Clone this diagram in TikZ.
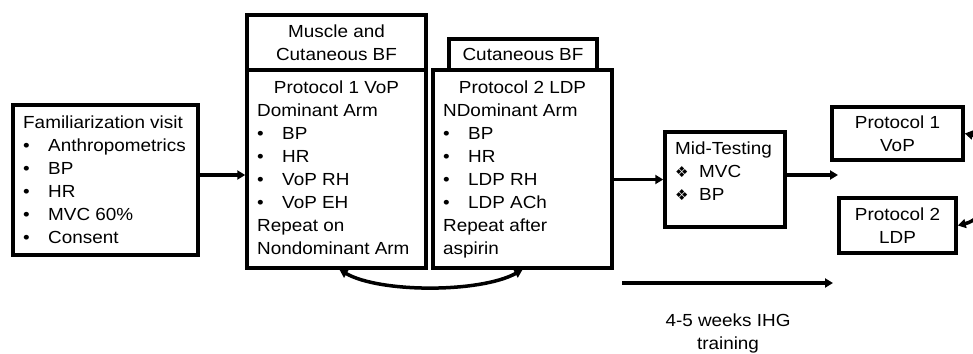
\documentclass[tikz,border=0pt]{standalone}
\usepackage{fontspec}
\setmainfont{Liberation Sans}[FakeStretch=1.08]
\newfontfamily\dejavu{DejaVu Sans}
\usetikzlibrary{arrows.meta}
\newcommand{\bul}{\makebox[25pt][l]{\textbullet}}
\newcommand{\dia}{\makebox[24pt][l]{{\dejavu\fontsize{15}{23}\selectfont ❖}}}
\begin{document}
\begin{tikzpicture}[x=1pt,y=-1pt,
  every node/.style={font=\fontsize{17.5}{23}\selectfont},
  boxnode/.style={draw,line width=3.5pt,rectangle,inner sep=0pt,align=center},
  txt/.style={inner sep=0pt,align=left,anchor=north west},
  ttl/.style={inner sep=0pt,anchor=base},
  conn/.style={line width=3.5pt,-{Triangle[length=8pt,width=9pt]}},
  dconn/.style={line width=3.5pt,{Triangle[length=8pt,width=9pt]}-{Triangle[length=8pt,width=9pt]}}]
\useasboundingbox (0,0) rectangle (973,353);
% boxes
\node[boxnode,minimum width=185pt,minimum height=150pt] (fam) at (105.5,180) {};
\node[boxnode,minimum width=179pt,minimum height=55pt] (mbf) at (336.5,42.5) {Muscle and\\Cutaneous BF};
\node[boxnode,minimum width=179pt,minimum height=198pt] (p1) at (336.5,169) {};
\node[boxnode,minimum width=148pt,minimum height=31pt] (cbf) at (523,54.5) {Cutaneous BF};
\node[boxnode,minimum width=179pt,minimum height=198pt] (p2) at (522.5,169) {};
\node[boxnode,minimum width=120pt,minimum height=95pt] (mid) at (725,179.5) {};
\node[boxnode,minimum width=131pt,minimum height=53pt] (r1) at (897.5,133.5) {Protocol 1\\VoP};
\node[boxnode,minimum width=117pt,minimum height=55pt] (r2) at (897.5,225.5) {Protocol 2\\LDP};
% texts
\node[txt] (famt) at (23,112.5) {\strut Familiarization visit\\\bul Anthropometrics\\\bul BP\\\bul HR\\\bul MVC 60\%\\\bul Consent};
\node[ttl] (p1t) at (336.5,93) {Protocol 1 VoP};
\node[txt] (p1b) at (257,100) {\strut Dominant Arm\\\bul BP\\\bul HR\\\bul VoP RH\\\bul VoP EH\\Repeat on\\Nondominant Arm};
\node[ttl] (p2t) at (522.5,93) {Protocol 2 LDP};
\node[txt] (p2b) at (443,100) {\strut NDominant Arm\\\bul BP\\\bul HR\\\bul LDP RH\\\bul LDP ACh\\Repeat after\\aspirin};
\node[txt] (midt) at (675,138) {\strut Mid-Testing\\\dia MVC\\\dia BP};
\node[inner sep=0pt,align=center] (lbl) at (728,333.5) {4-5 weeks IHG\\training};
% connectors
\draw[conn] ([yshift=5pt]fam.east) -- ([yshift=5pt]fam.east -| p1.west);
\draw[conn] (mid.west -| p2.east) -- (mid.west);
\coordinate (m3) at (838,175);
\draw[conn] (mid.east |- m3) -- (m3);
\coordinate (t0) at (622,283);
\coordinate (t1) at (833,283);
\draw[conn] (t0) -- (t1);
\draw[dconn] ([xshift=3pt]p1.south) .. controls (380,293) and (480,293) .. (p2.south);
\draw[dconn] (r1.east) .. controls (1000,140) and (1000,215) .. (r2.east);
\end{tikzpicture}
\end{document}
